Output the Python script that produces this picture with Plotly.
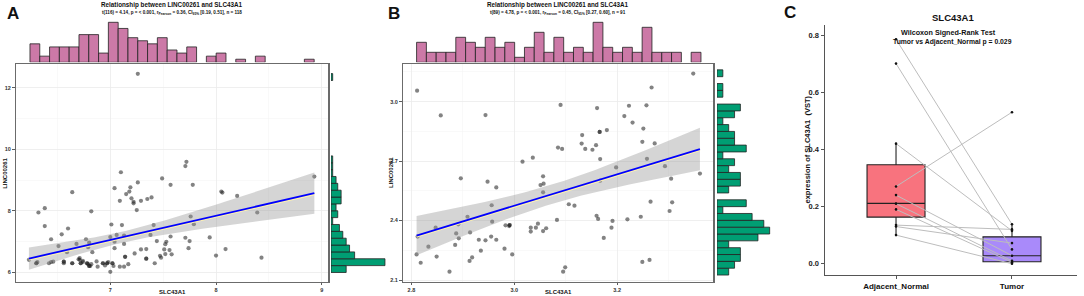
import numpy as np
import plotly.graph_objects as go

W, H = 1084, 296
FONT = "Liberation Sans"

# ---------------- Panel A data ----------------
a_x = [6.23, 6.30, 6.31, 6.32, 6.38, 6.38, 6.42, 6.44, 6.46, 6.44,
       6.51, 6.54, 6.56, 6.56, 6.59, 6.60, 6.64, 6.64, 6.68, 6.70,
       6.71, 6.71, 6.72, 6.74, 6.74, 6.78, 6.79, 6.80, 6.81, 6.82,
       6.77, 6.79, 6.80, 6.82, 6.83, 6.87, 6.88, 6.93, 6.95, 6.97,
       6.98, 7.00, 7.00, 7.01, 7.02, 7.03, 7.04, 7.04, 7.04, 7.06,
       7.10, 7.09, 7.09, 7.11, 7.13, 7.13, 7.14, 7.13, 7.15, 7.18,
       7.19, 7.20, 7.22, 7.22, 7.17, 7.23, 7.25, 7.26, 7.29, 7.29,
       7.34, 7.34, 7.35, 7.39, 7.38, 7.41, 7.42, 7.44, 7.47, 7.48,
       7.49, 7.51, 7.52, 7.52, 7.53, 7.56, 7.57, 7.57, 7.58, 7.71,
       7.72, 7.71, 7.74, 7.75, 7.76, 7.78, 7.79, 7.94, 8.00, 8.05,
       8.06, 8.09, 8.20, 8.39, 8.43, 8.93, 7.26,
       6.72, 6.80, 6.93, 7.14, 7.34, 6.56, 6.30, 6.97, 6.64, 7.02, 6.78]
a_y = [6.41, 6.30, 6.34, 7.95, 8.09, 7.51, 6.30, 6.34, 6.35, 7.08,
       6.86, 7.24, 6.35, 6.30, 6.66, 7.43, 8.61, 6.30, 6.93, 6.43,
       6.47, 6.41, 6.30, 6.34, 6.38, 6.30, 6.27, 6.21, 6.21, 6.27,
       7.08, 6.82, 6.97, 7.99, 6.66, 6.36, 6.19, 6.30, 6.23, 6.30,
       6.34, 7.15, 6.02, 7.56, 6.30, 6.21, 7.00, 6.79, 8.74, 7.22,
       9.26, 8.33, 6.19, 7.54, 7.20, 6.93, 6.51, 6.19, 8.55, 8.63,
       8.77, 8.41, 8.30, 8.25, 6.27, 6.62, 8.03, 8.93, 8.33, 6.75,
       6.76, 6.45, 8.39, 8.44, 7.22, 7.54, 6.30, 7.02, 6.54, 6.48,
       9.06, 6.75, 6.60, 6.92, 7.00, 6.73, 8.85, 7.17, 6.59, 9.46,
       9.60, 7.13, 6.79, 7.02, 7.82, 8.85, 7.57, 7.14, 6.55, 8.63,
       8.60, 6.76, 8.49, 7.95, 6.48, 9.12, 12.46,
       6.30, 6.21, 6.30, 6.51, 6.45, 6.35, 6.30, 6.30, 6.30, 6.30, 6.30]
a_top_start, a_top_width = 6.240, 0.0927
a_top_counts = [6, 2, 5, 5, 5, 9, 9, 3, 13, 11, 8, 7, 6, 8, 4, 3, 5, 0, 2, 3,
                0, 1, 0, 2, 0, 0, 0, 0, 1]
a_right_start, a_right_width = 6.0, 0.223
a_right_counts = [9, 32, 14, 11, 9, 7, 5, 1, 4, 3, 6, 6, 4, 3, 1, 1, 1,
                  0, 0, 0, 0, 0, 0, 0, 0, 0, 0, 0, 1]
a_title = "Relationship between LINC00261 and SLC43A1"
a_sub = ("t(116) = 4.14, p = < 0.001, r<sub>Pearson</sub> = 0.36, "
         "CI<sub>95%</sub> [0.19, 0.51], n = 118")

# ---------------- Panel B data ----------------
b_x = [2.811, 2.857, 2.944, 3.090, 3.161, 3.223, 3.257, 3.267, 3.348, 3.214,
       3.230, 3.251, 3.180, 3.166, 3.132, 3.131, 3.159, 3.138, 3.152, 3.085,
       3.093, 3.249, 3.273, 3.167, 3.198, 3.258, 3.293, 3.361, 2.810, 2.812,
       2.818, 2.833, 2.847, 2.849, 2.874, 2.885, 2.887, 2.892, 2.891, 2.896,
       2.909, 2.913, 2.914, 2.918, 2.931, 2.935, 2.944, 2.948, 2.956, 2.957,
       2.955, 2.965, 2.965, 2.981, 2.983, 2.990, 2.991, 2.996, 3.016, 3.032,
       3.032, 3.036, 3.042, 3.046, 3.051, 3.056, 3.057, 3.056, 3.056, 3.062,
       3.083, 3.095, 3.099, 3.106, 3.117, 3.160, 3.163, 3.174, 3.189, 3.191,
       3.220, 3.246, 3.249, 3.263, 3.265, 3.302, 3.305, 3.307, 3.167, 3.166, 2.991]
b_y = [3.055, 2.930, 2.932, 2.983, 2.967, 2.979, 2.981, 3.071, 3.141, 2.927,
       2.894, 2.864, 2.856, 2.847, 2.831, 2.788, 2.780, 2.761, 2.757, 2.768,
       2.761, 2.797, 2.789, 2.710, 2.668, 2.711, 2.674, 2.637, 2.229, 2.319,
       2.187, 2.268, 2.364, 2.218, 2.142, 2.277, 2.335, 2.310, 2.381, 2.613,
       2.419, 2.196, 2.340, 2.214, 2.303, 2.248, 2.300, 2.596, 2.477, 2.394,
       2.319, 2.567, 2.303, 2.258, 2.376, 2.372, 2.377, 2.229, 2.697, 2.364,
       2.344, 2.717, 2.364, 2.384, 2.579, 2.623, 2.586, 2.542, 2.347, 2.361,
       2.403, 2.142, 2.164, 2.482, 2.475, 2.424, 2.408, 2.312, 2.364, 2.398,
       2.406, 2.419, 2.191, 2.201, 2.495, 2.448, 2.611, 2.492, 2.601, 2.847, 2.377]
b_top_start, b_top_width = 2.810, 0.01907
b_top_counts = [4, 2, 2, 2, 5, 4, 3, 5, 3, 4, 1, 3, 6, 2, 5, 2, 3, 2, 8, 3,
                2, 3, 2, 7, 2, 2, 2, 0, 2]
b_right_start, b_right_width = 2.125, 0.0345
b_title = "Relationship between LINC00261 and SLC43A1"
b_sub = ("t(89) = 4.78, p = < 0.001, r<sub>Pearson</sub> = 0.45, "
         "CI<sub>95%</sub> [0.27, 0.60], n = 91")

# ---------------- Panel C data ----------------
c_groups = ["Adjacent_Normal", "Tumor"]
c_adj = [0.785, 0.70, 0.42, 0.27, 0.24, 0.21, 0.19, 0.135, 0.13, 0.10]
c_tum = [0.138, 0.05, 0.115, 0.53, 0.028, 0.01, 0.005, 0.12, 0.072, 0.0]
c_q1 = [0.163, 0.007]
c_med = [0.211, 0.028]
c_q3 = [0.346, 0.094]
c_lo = [0.097, 0.0]
c_hi = [0.421, 0.139]
c_colors = ["#F8737E", "#A98AFA"]

PINK = "#CC79A7"
GREEN = "#009E73"


def fx(px):
    return px / W


def fy(py):
    return 1 - py / H


def fit_band(x, y, tcrit):
    x = np.asarray(x, float)
    y = np.asarray(y, float)
    n = len(x)
    b1, b0 = np.polyfit(x, y, 1)
    xs = np.linspace(x.min(), x.max(), 80)
    yh = b0 + b1 * xs
    res = y - (b0 + b1 * x)
    s = np.sqrt(np.sum(res ** 2) / (n - 2))
    sxx = np.sum((x - x.mean()) ** 2)
    se = s * np.sqrt(1 / n + (xs - x.mean()) ** 2 / sxx)
    return xs, yh, yh - tcrit * se, yh + tcrit * se


fig = go.Figure()


def add_scatter_panel(xd, yd, tcrit, xa, ya):
    fig.add_trace(go.Scatter(x=xd, y=yd, mode="markers", xaxis=xa, yaxis=ya,
                             marker=dict(size=4.2, color="rgba(30,30,30,0.55)"),
                             showlegend=False, hoverinfo="skip"))
    xs, yh, lo, hi = fit_band(xd, yd, tcrit)
    fig.add_trace(go.Scatter(x=np.concatenate([xs, xs[::-1]]),
                             y=np.concatenate([hi, lo[::-1]]),
                             fill="toself", fillcolor="rgba(150,150,150,0.4)",
                             line=dict(width=0), mode="lines", xaxis=xa, yaxis=ya,
                             showlegend=False, hoverinfo="skip"))
    fig.add_trace(go.Scatter(x=xs, y=yh - 0.004 * (max(yd) - min(yd)), mode="lines",
                             line=dict(color="#FFF3B0", width=2.4), xaxis=xa, yaxis=ya,
                             showlegend=False, hoverinfo="skip"))
    fig.add_trace(go.Scatter(x=xs, y=yh, mode="lines", line=dict(color="#0000FF", width=1.8),
                             xaxis=xa, yaxis=ya, showlegend=False, hoverinfo="skip"))


def add_top_hist(start, width, counts, xa, ya):
    xc = [start + width * (i + 0.5) for i, c in enumerate(counts) if c > 0]
    yc = [c for c in counts if c > 0]
    fig.add_trace(go.Bar(x=xc, y=yc, width=width, xaxis=xa, yaxis=ya,
                         marker=dict(color=PINK, line=dict(color="#222", width=0.8)),
                         showlegend=False, hoverinfo="skip"))


def add_right_hist(start, width, counts, xa, ya):
    yc = [start + width * (i + 0.5) for i, c in enumerate(counts) if c > 0]
    xc = [c for c in counts if c > 0]
    fig.add_trace(go.Bar(y=yc, x=xc, width=width, orientation="h", xaxis=xa, yaxis=ya,
                         marker=dict(color=GREEN, line=dict(color="#222", width=0.8)),
                         showlegend=False, hoverinfo="skip"))


# Panel A
add_scatter_panel(a_x, a_y, 1.981, "x", "y")
add_top_hist(a_top_start, a_top_width, a_top_counts, "x2", "y2")
add_right_hist(a_right_start, a_right_width, a_right_counts, "x3", "y3")

# Panel B
add_scatter_panel(b_x, b_y, 1.987, "x4", "y4")
add_top_hist(b_top_start, b_top_width, b_top_counts, "x5", "y5")
fig.add_trace(go.Histogram(y=b_y, xaxis="x6", yaxis="y6",
                           ybins=dict(start=b_right_start,
                                      end=b_right_start + 30 * b_right_width,
                                      size=b_right_width),
                           marker=dict(color=GREEN, line=dict(color="#222", width=0.8)),
                           showlegend=False, hoverinfo="skip"))

# Panel C
for i, g in enumerate(c_groups):
    fig.add_trace(go.Box(x=[i + 1], q1=[c_q1[i]], median=[c_med[i]], q3=[c_q3[i]],
                         lowerfence=[c_lo[i]], upperfence=[c_hi[i]],
                         width=0.5, fillcolor=c_colors[i], boxpoints=False,
                         line=dict(color="#222", width=1.1),
                         whiskerwidth=0, xaxis="x7", yaxis="y7",
                         showlegend=False, hoverinfo="skip"))
lx, ly = [], []
for a, t in zip(c_adj, c_tum):
    lx += [1, 2, None]
    ly += [a, t, None]
fig.add_trace(go.Scatter(x=lx, y=ly, mode="lines", line=dict(color="#BDBDBD", width=1),
                         xaxis="x7", yaxis="y7", showlegend=False, hoverinfo="skip"))
fig.add_trace(go.Scatter(x=[1] * len(c_adj) + [2] * len(c_tum), y=c_adj + c_tum,
                         mode="markers", marker=dict(size=2.6, color="#111"),
                         xaxis="x7", yaxis="y7", showlegend=False, hoverinfo="skip"))

tickf = dict(family=FONT, size=5.5, color="#333", weight="bold")
grid_common = dict(showgrid=True, gridcolor="#EBEBEB", gridwidth=0.8, zeroline=False,
                   showline=True, mirror=True, linecolor="#6B6B6B", linewidth=1.2,
                   ticks="outside", ticklen=2.5, tickcolor="#333", tickwidth=0.8,
                   tickfont=tickf, automargin=False)
hidden = dict(visible=False, showgrid=False, zeroline=False, automargin=False)

A_L, A_R, TOP, BOT = 15.7, 328.3, 64.3, 281.7
B_L, B_R = 402.7, 713.3
HT, HB = 20.3, 62.3

layout = dict(
    template="none",
    width=W, height=H, margin=dict(l=0, r=0, t=0, b=0, pad=0, autoexpand=False),
    paper_bgcolor="white", plot_bgcolor="rgba(0,0,0,0)",
    font=dict(family=FONT, color="#222"),
    bargap=0, showlegend=False,
    xaxis=dict(domain=[fx(A_L), fx(A_R)], range=[6.105, 9.062], anchor="y",
               tickvals=[7, 8, 9],
               minor=dict(tickvals=[6.5, 7.5, 8.5], showgrid=True, gridcolor="#F3F3F3",
                          gridwidth=0.5, ticks=""),
               **grid_common),
    yaxis=dict(domain=[fy(BOT), fy(TOP)], range=[5.70, 12.77], anchor="x",
               tickvals=[6, 8, 10, 12],
               minor=dict(tickvals=[7, 9, 11], showgrid=True, gridcolor="#F3F3F3",
                          gridwidth=0.5, ticks=""),
               **grid_common),
    xaxis2=dict(domain=[fx(A_L), fx(A_R)], range=[6.105, 9.062], anchor="y2", **hidden),
    yaxis2=dict(domain=[fy(HB), fy(HT)], range=[0, 13.65], anchor="x2", **hidden),
    xaxis3=dict(domain=[fx(331), fx(388)], range=[0, 33.8], anchor="y3", **hidden),
    yaxis3=dict(domain=[fy(BOT), fy(TOP)], range=[5.70, 12.77], anchor="x3", **hidden),
    xaxis4=dict(domain=[fx(B_L), fx(B_R)], range=[2.783, 3.387], anchor="y4",
                tickvals=[2.8, 3.0, 3.2], ticktext=["2.8", "3.0", "3.2"],
                minor=dict(tickvals=[2.9, 3.1, 3.3], showgrid=True, gridcolor="#F3F3F3",
                           gridwidth=0.5, ticks=""),
                **grid_common),
    yaxis4=dict(domain=[fy(BOT), fy(TOP)], range=[2.0914, 3.188], anchor="x4",
                tickvals=[2.1, 2.4, 2.7, 3.0], ticktext=["2.1", "2.4", "2.7", "3.0"],
                minor=dict(tickvals=[2.25, 2.55, 2.85, 3.15], showgrid=True,
                           gridcolor="#F3F3F3", gridwidth=0.5, ticks=""),
                **grid_common),
    xaxis5=dict(domain=[fx(B_L), fx(B_R)], range=[2.783, 3.387], anchor="y5", **hidden),
    yaxis5=dict(domain=[fy(HB), fy(HT)], range=[0, 8.4], anchor="x5", **hidden),
    xaxis6=dict(domain=[fx(717), fx(772)], range=[0, 9.4], anchor="y6", **hidden),
    yaxis6=dict(domain=[fy(BOT), fy(TOP)], range=[2.0914, 3.188], anchor="x6", **hidden),
    xaxis7=dict(domain=[fx(824.7), fx(1076.7)], range=[0.385, 2.558], anchor="y7",
                tickvals=[1, 2], ticktext=c_groups, showgrid=False, zeroline=False,
                showline=True, linecolor="#555", linewidth=1.2, ticks="outside",
                ticklen=3, tickcolor="#555", automargin=False,
                tickfont=dict(family=FONT, size=8, color="#111", weight="bold")),
    yaxis7=dict(domain=[fy(275), fy(25)], range=[-0.0395, 0.835], anchor="x7",
                tickvals=[0, 0.2, 0.4, 0.6, 0.8],
                ticktext=["0.0", "0.2", "0.4", "0.6", "0.8"],
                showgrid=False, zeroline=False, showline=True, linecolor="#555",
                linewidth=1.2, ticks="outside", ticklen=3, tickcolor="#555",
                automargin=False,
                tickfont=dict(family=FONT, size=7.5, color="#222", weight="bold")),
)
fig.update_layout(**layout)


def ann(text, px, py, size, angle=0, bold=True, xanchor="center"):
    fig.add_annotation(text=("<b>%s</b>" % text) if bold else text,
                       x=fx(px), y=fy(py), xref="paper", yref="paper",
                       xanchor=xanchor, yanchor="middle", showarrow=False,
                       textangle=angle, font=dict(family=FONT, size=size, color="#111"))


# panel letters
ann("A", 13, 13, 17)
ann("B", 394, 13, 17)
ann("C", 790, 12, 17)
# titles A / B
ann(a_title, 172, 4.8, 6.3)
ann(a_sub, 172, 12.8, 4.6)
ann(b_title, 558, 4.8, 6.3)
ann(b_sub, 558, 12.8, 4.6)
# axis titles A / B
ann("SLC43A1", 172, 291.5, 6)
ann("LINC00261", 4.8, 173, 6, angle=-90)
ann("SLC43A1", 558, 291.5, 6)
ann("LINC00261", 391, 173, 6, angle=-90)
# panel C texts
ann("SLC43A1", 953, 17.5, 9.5)
ann("Wilcoxon Signed-Rank Test", 948, 32.3, 7.2)
ann("Tumor vs Adjacent_Normal p = 0.029", 952, 41.7, 6.8)
ann("expression of SLC43A1  (VST)", 806.5, 150, 7.5, angle=-90)

fig.write_html("out.html", config={"displayModeBar": False, "staticPlot": True},
               post_script="document.body.style.margin='0px';"
                           "document.body.style.overflow='hidden';")
